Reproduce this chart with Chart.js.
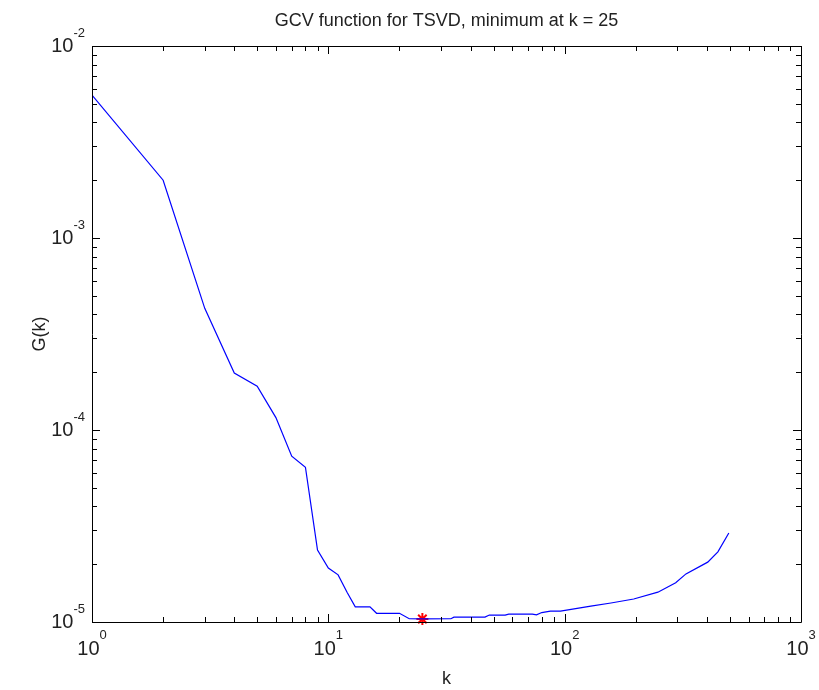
<!DOCTYPE html>
<html>
<head>
<meta charset="utf-8">
<script src="https://cdn.jsdelivr.net/npm/chart.js@4.4.1/dist/chart.umd.min.js"></script>
<style>
  html, body { margin: 0; padding: 0; background: #fff; }
  #wrap { width: 819px; height: 690px; position: relative; }
</style>
</head>
<body>
<div id="wrap"><canvas id="gcvChart"></canvas></div>
<script>
// k 값과 GCV 함수 값
const kValues = [1, 2, 3, 4, 5, 6, 7, 8, 9, 10, 11, 12, 13, 15, 16, 20, 22, 25, 33, 34, 46, 48, 56, 58, 73, 76, 80, 87, 96, 129, 157, 196, 248, 295, 326, 403, 445, 495];
const gValues = [5.55e-3, 2.0e-3, 4.3e-4, 1.98e-4, 1.69e-4, 1.16e-4, 7.3e-5, 6.4e-5, 2.37e-5, 1.91e-5, 1.76e-5, 1.43e-5, 1.20e-5, 1.20e-5, 1.11e-5, 1.11e-5, 1.04e-5, 1.037e-5, 1.04e-5, 1.06e-5, 1.06e-5, 1.087e-5, 1.087e-5, 1.10e-5, 1.10e-5, 1.09e-5, 1.12e-5, 1.14e-5, 1.14e-5, 1.21e-5, 1.256e-5, 1.318e-5, 1.43e-5, 1.60e-5, 1.78e-5, 2.05e-5, 2.32e-5, 2.91e-5];

// 최소값 위치
const minK = 25;
const minG = 1.037e-5;

// 눈금 (지수)
const xDecades = [0, 1, 2, 3];
const yDecades = [-5, -4, -3, -2];

const titleText = 'GCV function for TSVD, minimum at k = 25';
const xLabel = 'k';
const yLabel = 'G(k)';

const FONT = "'Liberation Sans', Arial, sans-serif";

/**
 * MATLAB 스타일 축, 눈금, 레이블 그리기
 */
const matlabAxes = {
  id: 'matlabAxes',
  afterDraw(chart) {
    const ctx = chart.ctx;
    const xs = chart.scales.x;
    const ys = chart.scales.y;
    const a = chart.chartArea;
    const major = 8, minor = 5;

    ctx.save();
    ctx.strokeStyle = '#000';
    ctx.lineWidth = 1;
    ctx.beginPath();
    ctx.rect(Math.round(a.left) + 0.5, Math.round(a.top) + 0.5, Math.round(a.right - a.left), Math.round(a.bottom - a.top));
    ctx.stroke();

    // x 눈금 (아래, 위)
    ctx.beginPath();
    for (let d = xDecades[0]; d <= xDecades[xDecades.length - 1]; d++) {
      for (let m = 1; m <= 9; m++) {
        const v = m * Math.pow(10, d);
        if (v > Math.pow(10, xDecades[xDecades.length - 1])) break;
        const px = Math.round(xs.getPixelForValue(v)) + 0.5;
        const len = m === 1 ? major : minor;
        ctx.moveTo(px, a.bottom);
        ctx.lineTo(px, a.bottom - len);
        ctx.moveTo(px, a.top);
        ctx.lineTo(px, a.top + len);
      }
    }
    // y 눈금 (왼쪽, 오른쪽)
    for (let d = yDecades[0]; d <= yDecades[yDecades.length - 1]; d++) {
      for (let m = 1; m <= 9; m++) {
        const v = m * Math.pow(10, d);
        if (v > Math.pow(10, yDecades[yDecades.length - 1]) * 1.0001) break;
        const py = Math.round(ys.getPixelForValue(v)) + 0.5;
        const len = m === 1 ? major : minor;
        ctx.moveTo(a.left, py);
        ctx.lineTo(a.left + len, py);
        ctx.moveTo(a.right, py);
        ctx.lineTo(a.right - len, py);
      }
    }
    ctx.stroke();

    // 눈금 레이블
    ctx.fillStyle = '#222';
    ctx.textBaseline = 'middle';
    ctx.textAlign = 'left';
    const baseFont = '20px ' + FONT;
    const expFont = '13px ' + FONT;

    xDecades.forEach(d => {
      const px = xs.getPixelForValue(Math.pow(10, d));
      ctx.font = baseFont;
      const dw = ctx.measureText('10').width;
      ctx.font = expFont;
      const ew = ctx.measureText(String(d)).width;
      const start = px - (dw + ew) / 2;
      ctx.font = baseFont;
      ctx.fillText('10', start, a.bottom + 27);
      ctx.font = expFont;
      ctx.fillText(String(d), start + dw, a.bottom + 13);
    });

    yDecades.forEach(d => {
      const py = ys.getPixelForValue(Math.pow(10, d));
      ctx.font = expFont;
      const ew = ctx.measureText(String(d)).width;
      ctx.font = baseFont;
      const dw = ctx.measureText('10').width;
      const expX = a.left - 7 - ew;
      ctx.fillText('10', expX - dw, py);
      ctx.font = expFont;
      ctx.fillText(String(d), expX, py - 13);
    });

    // 제목과 축 제목
    ctx.font = '18px ' + FONT;
    ctx.textAlign = 'center';
    ctx.fillText(titleText, (a.left + a.right) / 2, 21);
    ctx.fillText(xLabel, (a.left + a.right) / 2, 679);
    ctx.translate(40, (a.top + a.bottom) / 2);
    ctx.rotate(-Math.PI / 2);
    ctx.fillText(yLabel, 0, 0);
    ctx.restore();
  }
};

function initChart() {
  const ctx = document.getElementById('gcvChart');

  new Chart(ctx, {
    type: 'scatter',
    data: {
      datasets: [
        {
          data: kValues.map((k, i) => ({ x: k, y: gValues[i] })),
          showLine: true,
          borderColor: '#0000ff',
          borderWidth: 1.2,
          pointRadius: 0,
          tension: 0
        },
        {
          data: [{ x: minK, y: minG }],
          showLine: false,
          pointStyle: 'star',
          pointRadius: 6,
          borderColor: '#ff0000',
          backgroundColor: '#ff0000',
          borderWidth: 2,
          clip: false
        }
      ]
    },
    options: {
      responsive: true,
      maintainAspectRatio: false,
      animation: false,
      layout: { padding: { left: 0, right: 18, top: 46, bottom: 0 } },
      plugins: {
        legend: { display: false },
        title: { display: false },
        tooltip: { enabled: false }
      },
      scales: {
        x: {
          type: 'logarithmic',
          min: 1,
          max: 1000,
          grid: { display: false },
          border: { display: false },
          ticks: { display: false },
          afterFit(scale) { scale.height = 68; }
        },
        y: {
          type: 'logarithmic',
          min: 1e-5,
          max: 1e-2,
          grid: { display: false },
          border: { display: false },
          ticks: { display: false },
          afterFit(scale) { scale.width = 92; }
        }
      }
    },
    plugins: [matlabAxes]
  });
}

initChart();
</script>
</body>
</html>
